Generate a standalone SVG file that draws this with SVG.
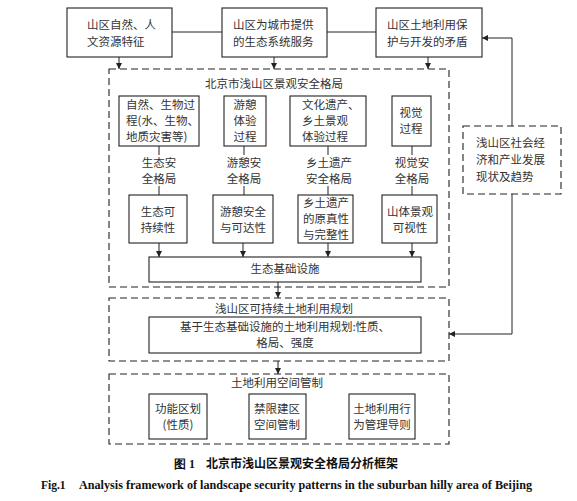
<svg xmlns="http://www.w3.org/2000/svg" width="577" height="501" viewBox="0 0 577 501">
<style>
.box{fill:#fff;stroke:#222;stroke-width:1.1}
.dbox{fill:none;stroke:#222;stroke-width:1.1;stroke-dasharray:7 4}
.ln{fill:none;stroke:#222;stroke-width:1}
text{font-family:"Noto Sans CJK SC","Noto Sans",sans-serif;font-size:11.5px;fill:#333}
.c{text-anchor:middle}
.cap{fill:#111;font-weight:bold;font-size:12px}
.en{font-family:"Liberation Serif",serif;font-weight:bold;fill:#111;font-size:11.5px}
</style>
<defs>
<marker id="ar" viewBox="0 0 8 8" refX="8" refY="4" markerWidth="6" markerHeight="6" orient="auto" markerUnits="userSpaceOnUse">
<path d="M0,0 L8,4 L0,8 z" fill="#222"/>
</marker>
</defs>
<rect width="577" height="501" fill="#fff"/>

<g id="connectors">
<line class="ln" x1="172" y1="32" x2="222" y2="32"/>
<line class="ln" x1="327" y1="32" x2="376" y2="32"/>
<line class="ln" x1="119" y1="57" x2="119" y2="69" marker-end="url(#ar)"/>
<line class="ln" x1="274" y1="57" x2="274" y2="69" marker-end="url(#ar)"/>
<line class="ln" x1="428" y1="57" x2="428" y2="69" marker-end="url(#ar)"/>
<polyline class="ln" points="512,126 512,38 482,38" marker-end="url(#ar)"/>
<polyline class="ln" points="512,194 512,334 449,334" marker-end="url(#ar)"/>
<line class="ln" x1="159" y1="146" x2="159" y2="155"/>
<line class="ln" x1="244" y1="146" x2="244" y2="155"/>
<line class="ln" x1="328" y1="146" x2="328" y2="155"/>
<line class="ln" x1="412" y1="146" x2="412" y2="155"/>
<line class="ln" x1="159" y1="186" x2="159" y2="195"/>
<line class="ln" x1="244" y1="186" x2="244" y2="195"/>
<line class="ln" x1="328" y1="186" x2="328" y2="195"/>
<line class="ln" x1="412" y1="186" x2="412" y2="195"/>
<line class="ln" x1="159" y1="243" x2="159" y2="257" marker-end="url(#ar)"/>
<line class="ln" x1="243" y1="243" x2="243" y2="257" marker-end="url(#ar)"/>
<line class="ln" x1="328" y1="243" x2="328" y2="257" marker-end="url(#ar)"/>
<line class="ln" x1="412" y1="243" x2="412" y2="257" marker-end="url(#ar)"/>
<line class="ln" x1="278" y1="282" x2="278" y2="298" marker-end="url(#ar)"/>
<line class="ln" x1="278" y1="361" x2="278" y2="374" marker-end="url(#ar)"/>
</g>

<g id="top1"><rect class="box" x="67" y="8" width="105" height="49"/>
<text x="87" y="29">山区自然、人</text><text x="87" y="46">文资源特征</text></g>
<g id="top2"><rect class="box" x="222" y="8" width="105" height="49"/>
<text x="233" y="29">山区为城市提供</text><text x="233" y="46">的生态系统服务</text></g>
<g id="top3"><rect class="box" x="376" y="8" width="106" height="49"/>
<text x="387" y="29">山区土地利用保</text><text x="387" y="46">护与开发的矛盾</text></g>

<g id="social"><rect class="dbox" x="463" y="126" width="98" height="68"/>
<text x="476" y="147">浅山区社会经</text><text x="476" y="164">济和产业发展</text><text x="476" y="181">现状及趋势</text></g>

<g id="pattern"><rect class="dbox" x="109" y="69" width="340" height="218"/>
<text class="c" x="274" y="88">北京市浅山区景观安全格局</text></g>

<g id="procA"><rect class="box" x="119" y="96" width="80" height="50"/>
<text x="126" y="109">自然、生物过</text><text x="126" y="125">程(水、生物、</text><text x="126" y="141">地质灾害等)</text></g>
<g id="procB"><rect class="box" x="224" y="96" width="42" height="50"/>
<text class="c" x="245" y="109">游憩</text><text class="c" x="245" y="125">体验</text><text class="c" x="245" y="141">过程</text></g>
<g id="procC"><rect class="box" x="290" y="96" width="76" height="50"/>
<text x="302" y="109">文化遗产、</text><text x="302" y="125">乡土景观</text><text x="302" y="141">体验过程</text></g>
<g id="procD"><rect class="box" x="392" y="96" width="39" height="50"/>
<text class="c" x="411" y="117">视觉</text><text class="c" x="411" y="133">过程</text></g>

<g id="labA"><text class="c" x="159" y="167">生态安</text><text class="c" x="159" y="183">全格局</text></g>
<g id="labB"><text class="c" x="244" y="167">游憩安</text><text class="c" x="244" y="183">全格局</text></g>
<g id="labC"><text class="c" x="329" y="167">乡土遗产</text><text class="c" x="329" y="183">安全格局</text></g>
<g id="labD"><text class="c" x="412" y="167">视觉安</text><text class="c" x="412" y="183">全格局</text></g>

<g id="goalA"><rect class="box" x="129" y="195" width="58" height="48"/>
<text class="c" x="158" y="216">生态可</text><text class="c" x="158" y="232">持续性</text></g>
<g id="goalB"><rect class="box" x="213" y="195" width="60" height="48"/>
<text class="c" x="243" y="216">游憩安全</text><text class="c" x="243" y="232">与可达性</text></g>
<g id="goalC"><rect class="box" x="298" y="195" width="55" height="48"/>
<text class="c" x="326" y="207">乡土遗产</text><text class="c" x="326" y="223">的原真性</text><text class="c" x="326" y="239">与完整性</text></g>
<g id="goalD"><rect class="box" x="382" y="195" width="55" height="48"/>
<text class="c" x="410" y="216">山体景观</text><text class="c" x="410" y="232">可视性</text></g>

<g id="eco"><rect class="box" x="149" y="257" width="272" height="25"/>
<text class="c" x="285" y="273">生态基础设施</text></g>

<g id="planning"><rect class="dbox" x="109" y="298" width="340" height="63"/>
<text class="c" x="284" y="313">浅山区可持续土地利用规划</text></g>
<g id="plan"><rect class="box" x="149" y="317" width="272" height="36"/>
<text class="c" x="285" y="331">基于生态基础设施的土地利用规划:性质、</text><text class="c" x="285" y="347">格局、强度</text></g>

<g id="control"><rect class="dbox" x="109" y="374" width="340" height="70"/>
<text class="c" x="277" y="387">土地利用空间管制</text></g>
<g id="ctlA"><rect class="box" x="149" y="394" width="58" height="45"/>
<text class="c" x="178" y="413">功能区划</text><text class="c" x="178" y="429">(性质)</text></g>
<g id="ctlB"><rect class="box" x="249" y="394" width="57" height="45"/>
<text class="c" x="277" y="413">禁限建区</text><text class="c" x="277" y="429">空间管制</text></g>
<g id="ctlC"><rect class="box" x="349" y="394" width="66" height="45"/>
<text class="c" x="382" y="413">土地利用行</text><text class="c" x="382" y="429">为管理导则</text></g>

<g id="caption">
<text class="cap" x="174" y="468"><tspan font-family="Liberation Serif,serif">图 1</tspan><tspan x="206">北京市浅山区景观安全格局分析框架</tspan></text>
<text class="en" y="489"><tspan x="41">Fig.1</tspan><tspan x="79" textLength="453" lengthAdjust="spacingAndGlyphs">Analysis framework of landscape security patterns in the suburban hilly area of Beijing</tspan></text>
</g>
</svg>
